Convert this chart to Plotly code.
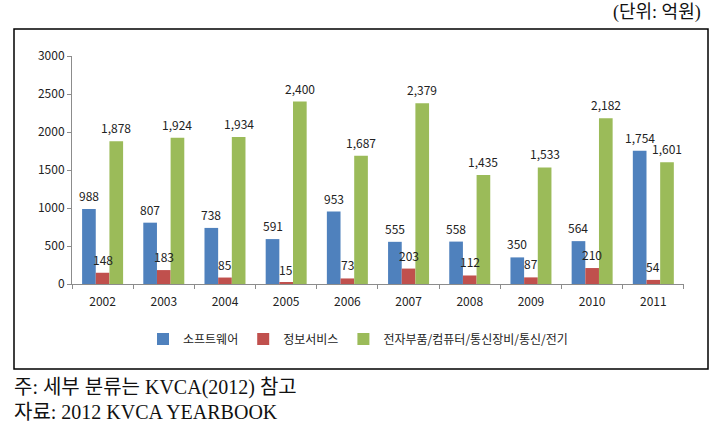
import plotly.graph_objects as go

years = ["2002", "2003", "2004", "2005", "2006", "2007", "2008", "2009", "2010", "2011"]
software = [988, 807, 738, 591, 953, 555, 558, 350, 564, 1754]
info_service = [148, 183, 85, 15, 73, 203, 112, 87, 210, 54]
electronics = [1878, 1924, 1934, 2400, 1687, 2379, 1435, 1533, 2182, 1601]
series_names = ["소프트웨어", "정보서비스", "전자부품/컴퓨터/통신장비/통신/전기"]
colors = ["#4F81BD", "#C0504D", "#9BBB59"]
y_ticks = [0, 500, 1000, 1500, 2000, 2500, 3000]

W, H = 722, 439
L, R, T, B = 72, 38, 56, 155
pw, ph = W - L - R, H - T - B
BARGAP = 0.33

def px_x(x):
    return (x - L) / pw

def px_y(y):
    return (H - B - y) / ph

sans = "Noto Sans CJK KR, Liberation Sans, sans-serif"
serif = "Liberation Serif, Noto Sans CJK KR, serif"

fig = go.Figure()
all_series = [software, info_service, electronics]
for name, vals, c in zip(series_names, all_series, colors):
    fig.add_trace(go.Bar(
        x=years, y=vals, name=name, marker=dict(color=c, line=dict(width=0)),
        cliponaxis=False,
    ))

# value labels drawn on top of all bars
cat_w = pw / len(years)
bar_w = cat_w * (1 - BARGAP) / len(all_series)
for i, vals in enumerate(all_series):
    shift = (i - 1) * bar_w
    for j, (yr, v) in enumerate(zip(years, vals)):
        fig.add_annotation(x=j, y=v, text=f"{v:,}", showarrow=False,
                           xanchor="center", yanchor="bottom", xshift=shift, yshift=3,
                           font=dict(family=sans, size=12, color="#222222"))

fig.update_layout(
    width=W, height=H,
    margin=dict(l=L, r=R, t=T, b=B),
    paper_bgcolor="white", plot_bgcolor="white",
    barmode="group", bargap=BARGAP, bargroupgap=0,
    showlegend=True,
    legend=dict(orientation="h", x=px_x(358), xanchor="center", y=px_y(339), yanchor="middle",
                font=dict(family=sans, size=12, color="#222222"),
                itemwidth=30, tracegroupgap=0),
    xaxis=dict(type="category", showline=True, linecolor="#8c8c8c", linewidth=1, ticks="outside",
               tickson="boundaries", ticklen=4, tickcolor="#8c8c8c", ticklabelstandoff=7,
               tickfont=dict(family=sans, size=12, color="#222222"), showgrid=False),
    yaxis=dict(range=[0, 3000], tickvals=y_ticks, showline=True, linecolor="#8c8c8c",
               linewidth=1, ticks="outside", ticklen=4, tickcolor="#8c8c8c",
               tickfont=dict(family=sans, size=12, color="#222222"), showgrid=False,
               zeroline=False),
    font=dict(family=sans),
)

fig.add_shape(type="rect", xref="paper", yref="paper",
              x0=px_x(14), x1=px_x(708), y0=px_y(369), y1=px_y(29),
              line=dict(color="black", width=1.5), fillcolor="rgba(0,0,0,0)", layer="below")

fig.add_annotation(text="(단위: 억원)", xref="paper", yref="paper", x=px_x(703), y=px_y(13),
                   xanchor="right", yanchor="middle", showarrow=False,
                   font=dict(family=serif, size=18, color="#111111"))
fig.add_annotation(text="주: 세부 분류는 KVCA(2012) 참고", xref="paper", yref="paper",
                   x=px_x(12), y=px_y(387), xanchor="left", yanchor="middle", showarrow=False,
                   font=dict(family=serif, size=20, color="#111111"))
fig.add_annotation(text="자료: 2012 KVCA YEARBOOK", xref="paper", yref="paper",
                   x=px_x(12), y=px_y(412), xanchor="left", yanchor="middle", showarrow=False,
                   font=dict(family=serif, size=20, color="#111111"))

fig.write_html("out.html", config={"displayModeBar": False},
               post_script="document.body.style.margin='0';document.body.style.overflow='hidden';")
